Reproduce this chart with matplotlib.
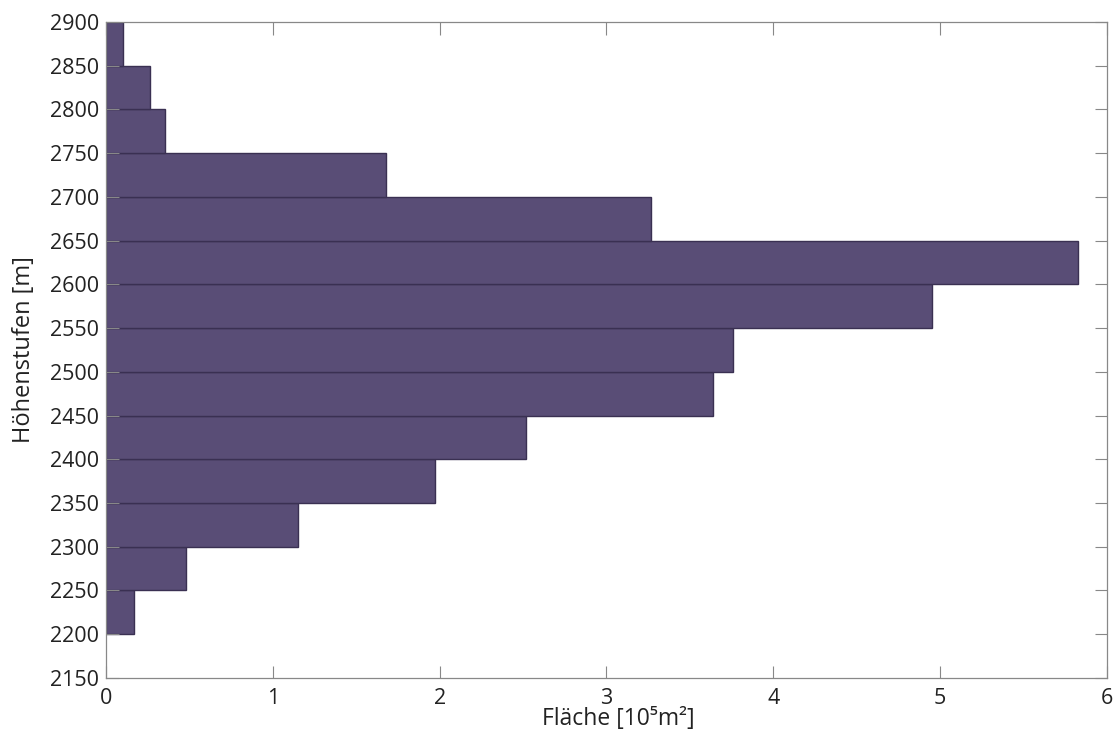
import numpy as np
import matplotlib.pyplot as plt

plt.rcParams['font.family'] = ['Open Sans', 'DejaVu Sans']

# lower edge of each 50 m elevation band
hoehe = [2200, 2250, 2300, 2350, 2400, 2450, 2500, 2550, 2600, 2650, 2700, 2750, 2800, 2850]
flaeche = [0.17, 0.48, 1.15, 1.97, 2.52, 3.64, 3.76, 4.95, 5.83, 3.27, 1.68, 0.355, 0.265, 0.10]
yticks = list(range(2150, 2901, 50))
xticks = [0, 1, 2, 3, 4, 5, 6]

fig = plt.figure(figsize=(11.17, 7.35), dpi=100)
ax = fig.add_axes([0.0949, 0.0776, 0.896, 0.8925])

ax.barh(hoehe, flaeche, height=50, align='edge', color='#594d76',
        edgecolor='#3a3052', linewidth=1.0)

ax.set_xlim(0, 6)
ax.set_ylim(2150, 2900)
ax.set_xticks(xticks)
ax.set_yticks(yticks)
ax.tick_params(direction='in', length=9, width=0.8, color='#888888',
               labelsize=15.5, labelcolor='#222222', top=True, right=True)
ax.tick_params(axis='x', pad=7)
ax.tick_params(axis='y', pad=5)
for s in ax.spines.values():
    s.set_color('#888888')
    s.set_linewidth(0.9)

ax.set_xlabel('Fläche [10⁵m²]', fontsize=16.5, color='#222222', labelpad=-1)
ax.xaxis.label.set_x(0.512)
ax.set_ylabel('Höhenstufen [m]', fontsize=17, color='#222222', labelpad=10)

fig.savefig('out.png', dpi=100)
